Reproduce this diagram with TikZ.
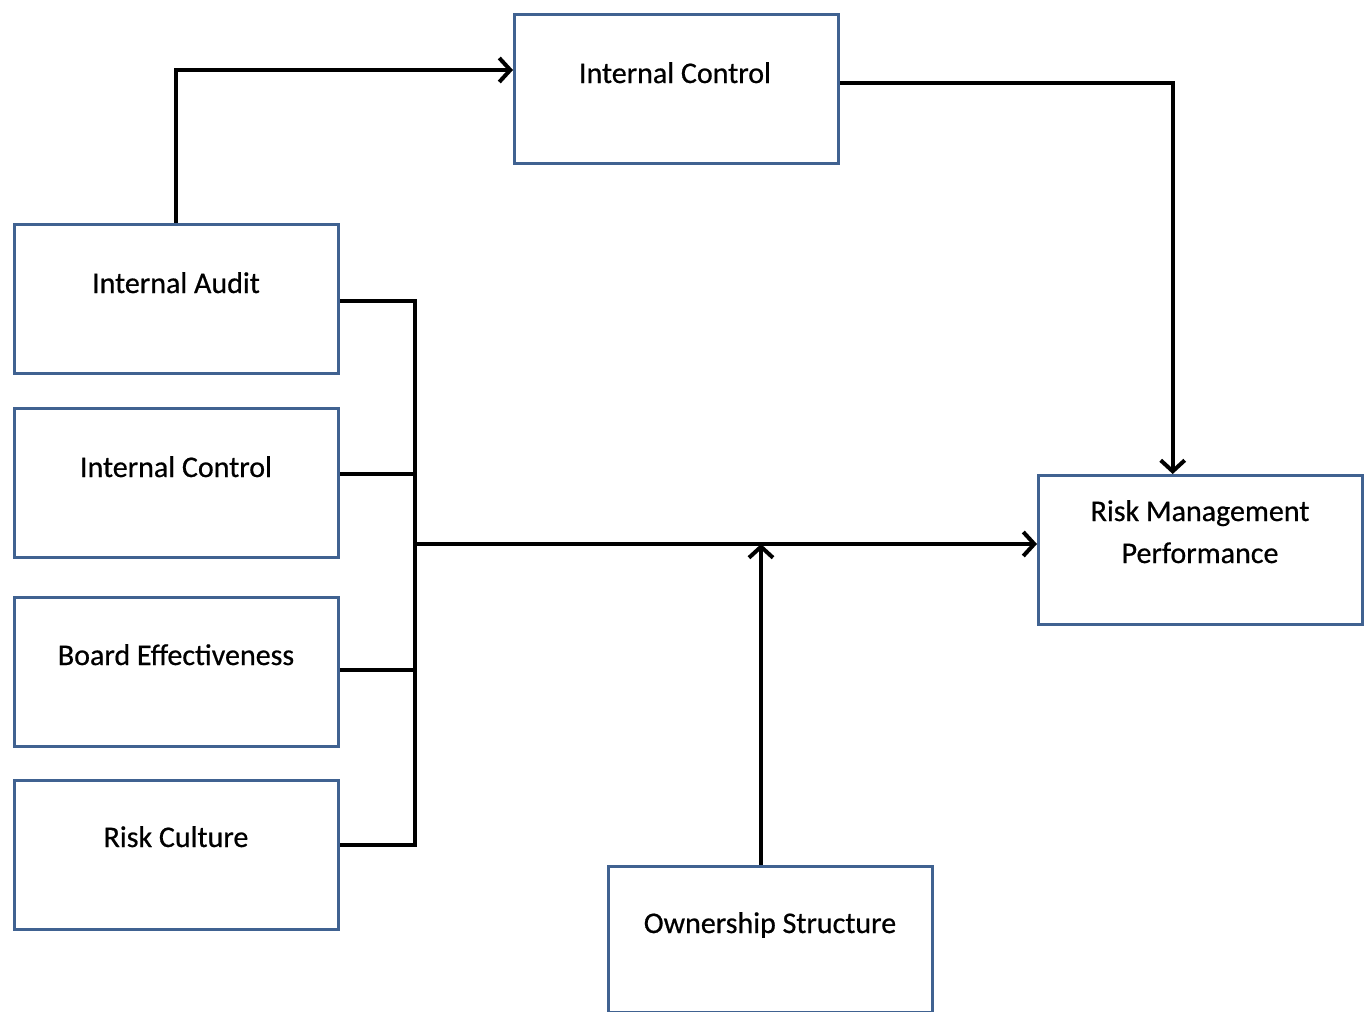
\documentclass[tikz,border=0pt]{standalone}
\usepackage{fontspec}
\setmainfont{Carlito}[UprightFeatures={FakeBold=0.6}]
\usetikzlibrary{arrows.meta}
\definecolor{boxblue}{RGB}{64,98,145}
\begin{document}
\begin{tikzpicture}[x=1pt,y=-1pt,
  blk/.style={draw=boxblue,line width=3.4pt,fill=white,minimum width=324pt,minimum height=149pt,inner sep=0pt,anchor=north west},
  lbl/.style={font=\fontsize{30}{42}\selectfont,align=center,anchor=base},
  con/.style={line width=4pt,draw=black},
  arr/.style={con,-{Straight Barb[length=11pt,width=24pt,line width=4pt]}}]
\useasboundingbox (0,0) rectangle (1369,1012);
% boxes
\node[blk] (ict) at (513,13) {};
\node[blk] (ia) at (13,223) {};
\node[blk] (icl) at (13,407) {};
\node[blk] (be) at (13,596) {};
\node[blk] (rc) at (13,779) {};
\node[blk] (rmp) at (1037,474) {};
\node[blk,minimum height=146pt] (os) at (607,865) {};
% labels
\node[lbl] (tict) at (675,83) {Internal Control};
\node[lbl] (tia) at (176,293) {Internal Audit};
\node[lbl] (ticl) at (176,477) {Internal Control};
\node[lbl] (tbe) at (176,665) {Board Effectiveness};
\node[lbl] (trc) at (176,847) {Risk Culture};
\node[lbl] (trmp) at (1200,563) {Risk Management\\Performance};
\node[lbl] (tos) at (770,933) {Ownership Structure};
% coordinates
\coordinate (busT) at (415,301);
\coordinate (busB) at (415,845);
\coordinate (busM) at (415,544);
\coordinate (join) at (761,544);
\coordinate (iaOut) at ([xshift=-1pt]ia.north);
\coordinate (rmpIn) at ([xshift=-28pt]rmp.north);
% connectors
\draw[arr] (iaOut) |- (ict.west |- 0,70);
\draw[arr] (ict.east |- 0,83) -| (rmpIn);
\draw[con] (ia.east |- busT) -- (busT) -- (busB) -- (rc.east |- busB);
\draw[con] (icl.east |- 0,474) -- (415,474);
\draw[con] (be.east |- 0,670) -- (415,670);
\draw[arr] (busM) -- (rmp.west |- busM);
\draw[arr] (os.north -| join) -- (join);
\end{tikzpicture}
\end{document}
